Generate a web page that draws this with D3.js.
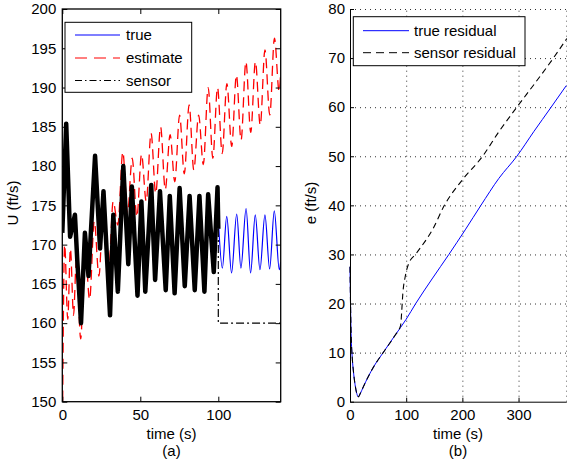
<!DOCTYPE html>
<meta charset="utf-8">
<style>
  body { margin: 0; background: #fff; }
  svg { font-family: "Liberation Sans", Arial, Helvetica, sans-serif; }
  .tick text { font-size: 15px; fill: #000; }
  .domain { stroke: #000; }
  .tick line { stroke: #000; }
  .grid .tick line { stroke: #333; stroke-dasharray: 1,4; }
  .grid .domain { display: none; }
  .lbl { font-size: 15px; fill: #000; }
</style>
<script src="https://cdn.jsdelivr.net/npm/d3@7"></script>
<svg id="chart" width="567" height="463"></svg>
<script>
// ---- panel (a): U (ft/s) vs time ----
var sensorT = [0, 2.5, 5, 8.1, 9.6, 12, 14.5, 16.8, 21, 24.2, 26.4, 30.6, 32.7, 35.6, 39.1, 42.3, 44.6, 48.2,
  50.7, 53.2, 57, 59.5, 62.6, 66.3, 68.9, 72, 75.2, 78.5, 81.6, 84.9, 87.9, 91.1, 93.5, 97.1, 99.5, 100, 100, 140];
var sensorU = [171.5, 185.4, 171, 173.8, 168, 160, 171.5, 166, 181.3, 169.5, 176.8, 161, 173.8, 164, 180, 167.5, 177.4, 163.5,
  175.5, 164, 177.6, 165.5, 176.8, 164.2, 176.2, 163.8, 177.2, 164.7, 176.2, 164.2, 176.2, 164, 176.4, 166.5, 177.3, 172, 160, 160];

var estT = [0, 1.5, 3.5, 5.2, 7.2, 9, 11.8, 14.5, 17.5, 20.5, 23.5, 26.5, 29.8, 32.6, 35.6, 38.8, 41.8, 44.8, 47.8,
  50.8, 53.8, 56.9, 59.9, 63, 66, 69.1, 72.1, 75.2, 78.2, 81.3, 84.3, 87.4, 90.4, 93.5, 96.5, 99.5, 102.5, 105.5,
  108.6, 111.6, 114.6, 117.7, 120.8, 123.8, 126.9, 129.9, 133, 136, 139, 140];
var estU = [144, 170, 160.5, 169.5, 161, 168, 158, 170, 163, 173, 166, 176, 167, 175.5, 172.5, 181.8, 174, 181, 173.5,
  181.5, 175.5, 184.2, 176.5, 185, 177, 184, 178, 186.5, 179, 187.8, 179.5, 186.5, 180.2, 190, 181, 190, 181.6, 190.5,
  182.5, 191.6, 183.3, 193.3, 184.3, 193.3, 185.2, 194.8, 186.5, 196.3, 189.5, 192];

var trueT = [100, 102.6, 105.4, 108.5, 111.8, 114.5, 117.8, 120.7, 123.7, 126.7, 129.9, 132.9, 135.9, 139.1, 140];
var trueU = [173.2, 167, 173.6, 166.4, 173.9, 167, 174.6, 166.4, 173.8, 166.8, 173.8, 166.9, 174.3, 166.8, 167.8];

// ---- panel (b): e (ft/s) vs time ----
var trueResT = [0, 1.8, 4, 6, 9, 12, 14.8, 18, 24, 32, 42, 59, 80, 100, 117, 146, 176, 205, 233, 265, 297, 327, 358, 385];
var trueResE = [27.5, 14.6, 9, 6.3, 3.5, 1.7, 1.0, 1.6, 3.1, 5, 7.1, 10, 13.5, 16.8, 20, 25, 30, 35, 40, 45.5, 50, 55, 60, 64.4];

var sensResT = [0, 1.8, 4, 6, 9, 12, 14.8, 18, 24, 32, 42, 59, 80, 90, 92, 94, 98, 104, 118, 148, 168, 200, 236, 265, 297, 330, 362, 386];
var sensResE = [27.5, 14.6, 9, 6.3, 3.5, 1.7, 1.0, 1.6, 3.1, 5, 7.1, 10, 13.5, 15.5, 18.3, 22, 25.3, 28, 30.2, 35.3, 40, 45.2, 50, 55, 60, 65, 70, 74];

var uTicks = [150, 155, 160, 165, 170, 175, 180, 185, 190, 195, 200];
var tTicksA = [0, 50, 100];
var eTicks = [0, 10, 20, 30, 40, 50, 60, 70, 80];
var tTicksB = [0, 100, 200, 300];

function zip(a, b) { return a.map(function(v, i) { return [v, b[i]]; }); }

var svg = d3.select('#chart');

// ================= panel (a) =================
var xa = d3.scaleLinear().domain([0, 140]).range([62.3, 280.7]);
var ya = d3.scaleLinear().domain([150, 200]).range([401.7, 9]);

svg.append('clipPath').attr('id', 'clipA').append('rect')
  .attr('x', xa(0)).attr('y', ya(200)).attr('width', xa(140) - xa(0)).attr('height', ya(150) - ya(200));

var ga = svg.append('g').attr('clip-path', 'url(#clipA)');
var lineA = d3.line().x(function(d) { return xa(d[0]); }).y(function(d) { return ya(d[1]); });
var smoothA = d3.line().curve(d3.curveMonotoneX).x(function(d) { return xa(d[0]); }).y(function(d) { return ya(d[1]); });

var sens = zip(sensorT, sensorU);
var cut = sensorT.indexOf(100);

ga.append('path').datum(zip(trueT, trueU))
  .attr('d', smoothA).attr('fill', 'none').attr('stroke', '#0000ff').attr('stroke-width', 1.2);
ga.append('path').datum(zip(estT, estU))
  .attr('d', smoothA).attr('fill', 'none').attr('stroke', '#ff0000').attr('stroke-width', 1.3)
  .attr('stroke-dasharray', '10,6');
// dense noisy part of the sensor reads as a thick band
ga.append('path').datum(sens.slice(0, cut + 1))
  .attr('d', lineA).attr('fill', 'none').attr('stroke', '#000').attr('stroke-width', 4.5)
  .attr('stroke-linejoin', 'round');
ga.append('path').datum(sens.slice(cut))
  .attr('d', lineA).attr('fill', 'none').attr('stroke', '#000').attr('stroke-width', 1.2)
  .attr('stroke-dasharray', '8,3,2,3');

svg.append('rect').attr('x', xa(0)).attr('y', ya(200)).attr('width', xa(140) - xa(0)).attr('height', ya(150) - ya(200))
  .attr('fill', 'none').attr('stroke', '#000').attr('stroke-width', 1.3);

svg.append('g').attr('transform', 'translate(' + xa(0) + ',0)')
  .call(d3.axisLeft(ya).tickValues(uTicks).tickSize(-5).tickSizeOuter(0).tickPadding(6))
  .select('.domain').remove();
svg.append('g').attr('transform', 'translate(' + xa(140) + ',0)')
  .call(d3.axisRight(ya).tickValues(uTicks).tickSize(-5).tickSizeOuter(0).tickFormat(''))
  .select('.domain').remove();
svg.append('g').attr('transform', 'translate(0,' + ya(150) + ')')
  .call(d3.axisBottom(xa).tickValues(tTicksA).tickSize(-5).tickSizeOuter(0).tickPadding(8))
  .select('.domain').remove();
svg.append('g').attr('transform', 'translate(0,' + ya(200) + ')')
  .call(d3.axisTop(xa).tickValues(tTicksA).tickSize(-5).tickSizeOuter(0).tickFormat(''))
  .select('.domain').remove();

svg.append('text').attr('class', 'lbl').attr('x', 171.5).attr('y', 439).attr('text-anchor', 'middle').text('time (s)');
svg.append('text').attr('class', 'lbl').attr('x', 171.5).attr('y', 456).attr('text-anchor', 'middle').text('(a)');
svg.append('text').attr('class', 'lbl').attr('transform', 'translate(18,203) rotate(-90)')
  .attr('text-anchor', 'middle').text('U (ft/s)');

// legend (a)
var legA = svg.append('g');
legA.append('rect').attr('x', 65).attr('y', 22.3).attr('width', 126.7).attr('height', 70)
  .attr('fill', '#fff').attr('stroke', '#000').attr('stroke-width', 1);
var legItemsA = [
  { name: 'true', color: '#0000ff', dash: null, y: 35 },
  { name: 'estimate', color: '#ff0000', dash: '12,7', y: 58 },
  { name: 'sensor', color: '#000', dash: '7,3,1.5,3', y: 80.5 }
];
legItemsA.forEach(function(d) {
  legA.append('line').attr('x1', 75).attr('x2', 120).attr('y1', d.y).attr('y2', d.y)
    .attr('stroke', d.color).attr('stroke-width', 1.2).attr('stroke-dasharray', d.dash);
  legA.append('text').attr('class', 'lbl').attr('x', 126).attr('y', d.y + 5).text(d.name);
});

// ================= panel (b) =================
var xb = d3.scaleLinear().domain([0, 385]).range([350, 566.3]);
var yb = d3.scaleLinear().domain([0, 80]).range([401.7, 9]);

// dotted grid
svg.append('g').attr('class', 'grid').attr('transform', 'translate(0,' + yb(0) + ')')
  .call(d3.axisBottom(xb).tickValues(tTicksB.slice(1).concat([385])).tickSize(-(yb(0) - yb(80))).tickFormat(''));
svg.append('g').attr('class', 'grid').attr('transform', 'translate(' + xb(0) + ',0)')
  .call(d3.axisLeft(yb).tickValues(eTicks.slice(1)).tickSize(-(xb(385) - xb(0))).tickFormat(''));

var lineB = d3.line().curve(d3.curveMonotoneX).x(function(d) { return xb(d[0]); }).y(function(d) { return yb(d[1]); });
svg.append('path').datum(zip(trueResT, trueResE))
  .attr('d', lineB).attr('fill', 'none').attr('stroke', '#0000ff').attr('stroke-width', 1);
svg.append('path').datum(zip(sensResT, sensResE))
  .attr('d', lineB).attr('fill', 'none').attr('stroke', '#000').attr('stroke-width', 1.1)
  .attr('stroke-dasharray', '6,4');

svg.append('g').attr('transform', 'translate(' + xb(0) + ',0)')
  .call(d3.axisLeft(yb).tickValues(eTicks).tickSize(-4).tickSizeOuter(0).tickPadding(5));
svg.append('g').attr('transform', 'translate(0,' + yb(0) + ')')
  .call(d3.axisBottom(xb).tickValues(tTicksB).tickSize(-4).tickSizeOuter(0).tickPadding(8));

svg.append('text').attr('class', 'lbl').attr('x', 458).attr('y', 439).attr('text-anchor', 'middle').text('time (s)');
svg.append('text').attr('class', 'lbl').attr('x', 458).attr('y', 456).attr('text-anchor', 'middle').text('(b)');
svg.append('text').attr('class', 'lbl').attr('transform', 'translate(316,203) rotate(-90)')
  .attr('text-anchor', 'middle').text('e (ft/s)');

// legend (b)
var legB = svg.append('g');
legB.append('rect').attr('x', 353.3).attr('y', 16.7).attr('width', 171.7).attr('height', 49)
  .attr('fill', '#fff').attr('stroke', '#000').attr('stroke-width', 1);
var legItemsB = [
  { name: 'true residual', color: '#0000ff', dash: null, y: 30.7 },
  { name: 'sensor residual', color: '#000', dash: '8,5', y: 52.7 }
];
legItemsB.forEach(function(d) {
  legB.append('line').attr('x1', 363).attr('x2', 409).attr('y1', d.y).attr('y2', d.y)
    .attr('stroke', d.color).attr('stroke-width', 1).attr('stroke-dasharray', d.dash);
  legB.append('text').attr('class', 'lbl').attr('x', 414).attr('y', d.y + 5).text(d.name);
});
</script>
